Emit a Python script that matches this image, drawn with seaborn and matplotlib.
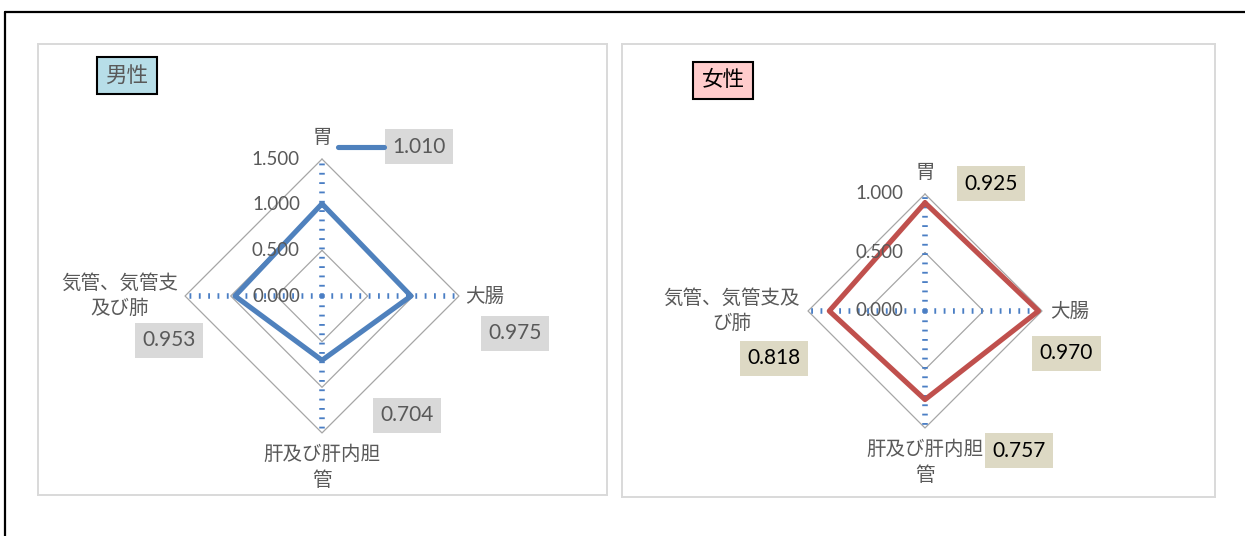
import numpy as np
import pandas as pd
import matplotlib
matplotlib.use("Agg")
import matplotlib.pyplot as plt
from matplotlib.lines import Line2D
from matplotlib.patches import Rectangle
import seaborn as sns

# ---- data -------------------------------------------------------------
categories = ["胃", "大腸", "肝及び肝内胆管", "気管、気管支及び肺"]
male_values = [1.010, 0.975, 0.704, 0.953]
female_values = [0.925, 0.970, 0.757, 0.818]
male_ticks = [0.0, 0.5, 1.0, 1.5]
female_ticks = [0.0, 0.5, 1.0]
male_tick_labels = ["0.000", "0.500", "1.000", "1.500"]
female_tick_labels = ["0.000", "0.500", "1.000"]
male_cat_labels = ["胃", "大腸", "肝及び肝内胆\n管", "気管、気管支\n及び肺"]
female_cat_labels = ["胃", "大腸", "肝及び肝内胆\n管", "気管、気管支及\nび肺"]

sns.set_theme(style="white")
plt.rcParams["font.family"] = ["Lato", "Noto Sans CJK JP", "DejaVu Sans"]

W, H = 1245, 536
fig = plt.figure(figsize=(W / 100, H / 100), dpi=100)

JP = ["Noto Sans CJK JP", "DejaVu Sans"]
NUM = ["Lato", "Noto Sans CJK JP", "DejaVu Sans"]
GRID = "#A6A6A6"
SPOKE = "#4A7EC4"
TXT = "#595959"

# open frame around the figure (left and top edges)
fig.add_artist(Line2D([5 / W, 5 / W], [0, (H - 12) / H], color="black",
                      lw=1.6, transform=fig.transFigure))
fig.add_artist(Line2D([5 / W, 1], [(H - 12) / H, (H - 12) / H],
                      color="black", lw=1.6, transform=fig.transFigure))


def directions(n):
    ang = np.pi / 2 - np.arange(n) * 2 * np.pi / n
    return np.cos(ang), np.sin(ang)


def radar_panel(box, center, scale, values, cat_labels, ticks, tick_labels,
                color, lab_face, lab_color, lab_offsets, cat_offsets,
                title, title_box, title_face, title_color, legend_key=False):
    x0, y0, x1, y1 = box
    ax = fig.add_axes([x0 / W, (H - y1) / H, (x1 - x0) / W, (y1 - y0) / H])
    cx, cy = center
    ax.set_xlim((x0 - cx) / scale, (x1 - cx) / scale)
    ax.set_ylim((cy - y1) / scale, (cy - y0) / scale)
    for s in ax.spines.values():
        s.set_color("#D9D9D9")
        s.set_linewidth(1.4)

    n = len(categories)
    rmax = ticks[-1]
    dx, dy = directions(n)

    # ring gridlines (straight-edged polygons)
    for t in ticks[1:]:
        ax.plot(np.r_[dx, dx[0]] * t, np.r_[dy, dy[0]] * t,
                color=GRID, lw=0.9, zorder=1)

    # dotted spokes
    for i in range(n):
        ax.plot([0, dx[i] * rmax], [0, dy[i] * rmax], color=SPOKE,
                lw=4.0, linestyle=(0, (0.33, 1.35)), dash_capstyle="butt",
                zorder=2)

    # series polygon
    order = list(range(n)) + [0]
    df = pd.DataFrame({"category": [categories[i] for i in order],
                       "value": [values[i] for i in order]})
    df["x"] = df["value"] * dx[order]
    df["y"] = df["value"] * dy[order]
    sns.lineplot(data=df, x="x", y="y", sort=False, estimator=None,
                 color=color, lw=3.7, ax=ax, zorder=3)

    # value-axis tick labels
    for t, lab in zip(ticks, tick_labels):
        ax.annotate(lab, xy=(0, t), xytext=(-22, 0),
                    textcoords="offset pixels", ha="right", va="center",
                    fontsize=13.5, color=TXT, family=NUM, zorder=4)

    # category labels
    for i, lab in enumerate(cat_labels):
        ox, oy, ha, va = cat_offsets[i]
        ax.annotate(lab, xy=(dx[i] * rmax, dy[i] * rmax), xytext=(ox, oy),
                    textcoords="offset pixels", ha=ha, va=va,
                    multialignment="center", linespacing=1.3,
                    fontsize=14, color=TXT, family=JP, zorder=4)

    # data labels
    for i, v in enumerate(values):
        ox, oy = lab_offsets[i]
        ax.annotate(f"{v:.3f}", xy=(dx[i] * v, dy[i] * v), xytext=(ox, oy),
                    textcoords="offset pixels", ha="center", va="center",
                    fontsize=15, color=lab_color, family=NUM, zorder=5,
                    bbox=dict(boxstyle="square,pad=0.36", fc=lab_face,
                              ec="none"))
        if legend_key and i == 0:
            kx = np.array([16, 62]) / scale
            ky = dy[0] * v + 57 / scale
            ax.plot(kx, [ky, ky], color=color, lw=3.7,
                    solid_capstyle="round", zorder=5)

    ax.set_xlabel("")
    ax.set_ylabel("")
    ax.set_xticks([])
    ax.set_yticks([])

    # panel title box
    bx0, by0, bx1, by1 = title_box
    fig.add_artist(Rectangle((bx0 / W, (H - by1) / H), (bx1 - bx0) / W,
                             (by1 - by0) / H, transform=fig.transFigure,
                             fc=title_face, ec="black", lw=1.5))
    fig.text((bx0 + bx1) / 2 / W, (H - (by0 + by1) / 2) / H, title,
             ha="center", va="center", fontsize=15.5, color=title_color,
             family=JP)
    return ax


radar_panel(box=(38, 44, 607, 495), center=(322, 296), scale=91.3,
            values=male_values, cat_labels=male_cat_labels,
            ticks=male_ticks, tick_labels=male_tick_labels,
            color="#4F81BD", lab_face="#D9D9D9", lab_color=TXT,
            lab_offsets=[(97, 57), (104, -37), (85, -55), (-66, -44)],
            cat_offsets=[(0, 22, "center", "center"),
                         (6, 0, "left", "center"),
                         (0, -11, "center", "top"),
                         (-7, 0, "right", "center")],
            title="男性", title_box=(97, 57, 157, 94),
            title_face="#B7DEE8", title_color=TXT, legend_key=True)

radar_panel(box=(622, 44, 1215, 497), center=(925, 311), scale=117,
            values=female_values, cat_labels=female_cat_labels,
            ticks=female_ticks, tick_labels=female_tick_labels,
            color="#C0504D", lab_face="#DDD9C4", lab_color="black",
            lab_offsets=[(66, 19), (28, -42), (94, -51), (-55, -47)],
            cat_offsets=[(0, 21, "center", "center"),
                         (8, 0, "left", "center"),
                         (0, -11, "center", "top"),
                         (-8, 0, "right", "center")],
            title="女性", title_box=(693, 62, 753, 99),
            title_face="#FFCCCC", title_color="black")

fig.savefig("out.png", dpi=100, facecolor="white")
